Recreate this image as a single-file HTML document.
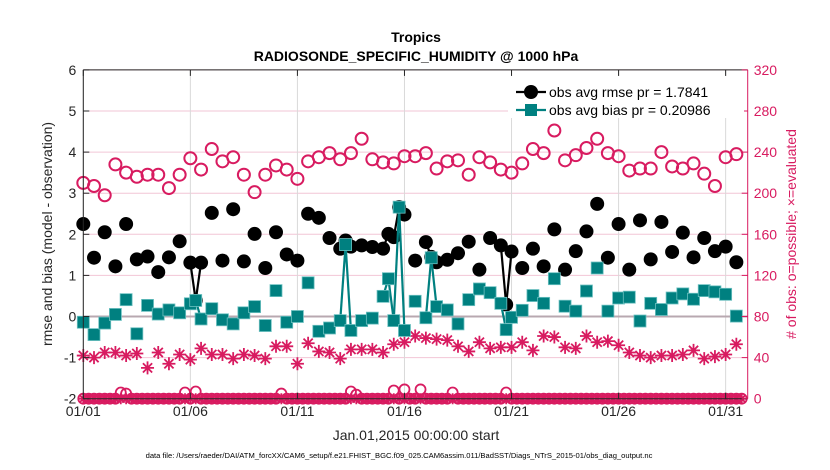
<!DOCTYPE html>
<html><head><meta charset="utf-8"><style>
html,body{margin:0;padding:0;background:#fff;}
svg{display:block;font-family:"Liberation Sans",Arial,sans-serif;}
</style></head><body>
<svg id="chart" width="830" height="470" viewBox="0 0 830 470" xmlns="http://www.w3.org/2000/svg">
<text x="416" y="42" text-anchor="middle" font-size="14" font-weight="bold" fill="#000">Tropics</text>
<text x="416" y="61" text-anchor="middle" font-size="14" font-weight="bold" fill="#000">RADIOSONDE_SPECIFIC_HUMIDITY @ 1000 hPa</text>
<g id="grid"></g>
<g id="series"></g>
<g id="axes"></g>
<text transform="translate(52,234) rotate(-90)" text-anchor="middle" font-size="14" fill="#262626">rmse and bias (model - observation)</text>
<text transform="translate(796,234) rotate(-90)" text-anchor="middle" font-size="14" fill="#d81b60"># of obs: o=possible; ×=evaluated</text>
<text x="416" y="440" text-anchor="middle" font-size="14" fill="#262626">Jan.01,2015 00:00:00 start</text>
<text x="399" y="458" text-anchor="middle" font-size="7.6" fill="#000">data file: /Users/raeder/DAI/ATM_forcXX/CAM6_setup/f.e21.FHIST_BGC.f09_025.CAM6assim.011/BadSST/Diags_NTrS_2015-01/obs_diag_output.nc</text>
<g id="legend"></g>
</svg>
<script>
// half-day samples (t = i*0.5 days)
const rmse = [2.25,1.43,2.05,1.22,2.25,1.39,1.46,1.08,1.44,1.83,1.31,1.31,2.52,1.36,2.61,1.34,2.01,1.18,2.05,1.51,1.36,2.50,2.40,1.91,1.65,1.70,1.73,1.69,1.65,1.93,2.48,1.36,1.81,1.32,1.38,1.54,1.82,1.14,1.91,1.73,1.58,1.18,1.65,1.22,2.12,1.14,1.59,2.07,2.74,1.43,2.25,1.14,2.34,1.39,2.30,1.57,2.04,1.44,1.91,1.59,1.70,1.32];
const bias = [-0.14,-0.44,-0.16,0.05,0.41,-0.42,0.27,0.06,0.16,0.09,0.31,-0.06,0.19,-0.08,-0.18,0.09,0.24,-0.22,0.63,-0.14,0.00,0.82,-0.36,-0.28,-0.10,-0.34,-0.10,-0.04,0.49,-0.10,-0.34,0.37,-0.03,0.24,0.16,-0.18,0.41,0.67,0.58,0.32,-0.02,0.15,0.51,0.32,0.92,0.25,0.13,0.62,1.18,0.13,0.45,0.47,-0.11,0.32,0.17,0.45,0.55,0.42,0.63,0.60,0.54,0.01];
const possible = [210,207,198,228,220,216,218,218,205,218,234,223,243,231,235,218,201,218,227,223,214,231,235,239,233,239,253,233,230,229,236,236,239,224,231,232,218,235,230,223,220,229,243,239,261,232,237,244,253,239,236,222,224,224,240,226,224,229,219,207,235,238];
const evaluated = [42,40,45,45,42,44,30,45,34,43,38,49,43,43,39,43,42,39,51,51,34,54,46,45,39,48,48,48,45,53,55,61,59,58,57,51,46,55,49,50,50,55,47,61,60,50,49,61,55,56,52,45,42,40,42,42,43,47,39,41,43,53];
// extra quarter-day samples: times, rmse, bias
const extraT = [5.25,12.25,14.25,14.75,16.25,19.75];
const extraRmse = [0.39,1.85,2.01,2.66,1.45,0.29];
const extraBias = [0.39,1.75,0.92,2.66,1.43,-0.32];
// 6-hourly level with no data (t = k*0.25)
const bottomPossible = [0,0,0,0,0,0,0,6,5,0,0,0,0,0,0,0,0,0,0,6,0,7,0,0,0,0,0,0,0,0,0,0,0,0,0,0,0,5,0,0,0,0,0,0,0,0,0,0,0,0,7,4,0,0,0,0,0,0,8,0,9,0,0,9,0,0,0,0,0,6,0,0,0,0,0,0,0,0,0,6,0,0,0,0,0,0,0,0,0,0,0,0,0,0,0,0,0,0,0,0,0,0,0,0,0,0,0,0,0,0,0,0,0,0,0,0,0,0,0,0,0,0,0,0];
const leftTicks = [-2,-1,0,1,2,3,4,5,6];
const rightTicks = [0,40,80,120,160,200,240,280,320];
const dayTicks = [0,5,10,15,20,25,30];
const dayLabels = ["01/01","01/06","01/11","01/16","01/21","01/26","01/31"];
const legendLabels = ["obs avg rmse pr = 1.7841","obs avg bias pr = 0.20986"];

const X0=83.3, X1=747.7, Y0=398.7, Y1=69.9, TMAX=31.03;
const xs = t => X0 + (X1-X0)*t/TMAX;
const yl = v => Y0 + (Y1-Y0)*(v+2)/8;
const yr = c => Y0 + (Y1-Y0)*c/320;
const NS="http://www.w3.org/2000/svg";
const PINK="#d81b60", TEAL="#008080";
function mk(tag, attrs, parent){const e=document.createElementNS(NS,tag);for(const k in attrs)e.setAttribute(k,attrs[k]);parent.appendChild(e);return e;}
const grid=document.getElementById('grid'), ser=document.getElementById('series'), axes=document.getElementById('axes'), leg=document.getElementById('legend');

mk('rect',{x:X0,y:Y1,width:X1-X0,height:Y0-Y1,fill:'#fff'},grid);
rightTicks.forEach(c=>{const l=mk('line',{x1:X0,x2:X1,y1:yr(c),y2:yr(c),stroke:'#f2c6d6','stroke-width':1},grid);

});
dayTicks.forEach(d=>{const l=mk('line',{x1:xs(d),x2:xs(d),y1:Y1,y2:Y0,stroke:'#d9d9d9','stroke-width':1},grid);

});
const z=mk('line',{x1:X0,x2:X1,y1:yl(0),y2:yl(0),stroke:'#b8a8b0','stroke-width':2},grid);



function star(g,x,y,r){
  let d='';
  for(let a=0;a<4;a++){const an=a*Math.PI/4;const dx=r*Math.cos(an),dy=r*Math.sin(an);d+=`M${x-dx},${y-dy}L${x+dx},${y+dy}`;}
  mk('path',{d:d,stroke:PINK,'stroke-width':1.8,fill:'none'},g);
}
const gb=mk('g',{},ser);


bottomPossible.forEach((c,k)=>{const x=xs(k*0.25);
  mk('circle',{cx:x,cy:yr(c),r:5,fill:'none',stroke:PINK,'stroke-width':1.8},gb);
  star(gb,x,yr(0),5.5);});
const gp=mk('g',{},ser);


possible.forEach((c,i)=>{mk('circle',{cx:xs(i*0.5),cy:yr(c),r:6,fill:'none',stroke:PINK,'stroke-width':2},gp);});
const ge=mk('g',{},ser);


evaluated.forEach((c,i)=>{star(ge,xs(i*0.5),yr(c),6.5);});

function merged(main, extra){
  const pts=main.map((v,i)=>({t:i*0.5,v:v}));
  extraT.forEach((t,j)=>pts.push({t:t,v:extra[j]}));
  pts.sort((a,b)=>a.t-b.t);return pts;
}
function drawSeries(pts,color,name,marker){
  const g=mk('g',{},ser);
  
  
  for(let i=1;i<pts.length;i++){if(pts[i].t-pts[i-1].t<=0.26){
    mk('line',{x1:xs(pts[i-1].t),y1:yl(pts[i-1].v),x2:xs(pts[i].t),y2:yl(pts[i].v),stroke:color,'stroke-width':2.2},g);}}
  pts.forEach(p=>marker(g,xs(p.t),yl(p.v)));
}
drawSeries(merged(rmse,extraRmse),'#000','rmse-series',(g,x,y)=>mk('circle',{cx:x,cy:y,r:7,fill:'#000'},g));
drawSeries(merged(bias,extraBias),TEAL,'bias-series',(g,x,y)=>mk('rect',{x:x-6,y:y-6,width:12,height:12,fill:TEAL,stroke:'#6cc0c0','stroke-width':0.8},g));

mk('line',{x1:X0,x2:X1,y1:Y1,y2:Y1,stroke:'#262626','stroke-width':1},axes);
mk('line',{x1:X0,x2:X1,y1:Y0,y2:Y0,stroke:'#262626','stroke-width':1},axes);
mk('line',{x1:X0,x2:X0,y1:Y1,y2:Y0,stroke:'#262626','stroke-width':1},axes);
mk('line',{x1:X1,x2:X1,y1:Y1,y2:Y0,stroke:PINK,'stroke-width':1},axes);
leftTicks.forEach(v=>{mk('line',{x1:X0,x2:X0+6,y1:yl(v),y2:yl(v),stroke:'#262626'},axes);
  const t=mk('text',{x:X0-7,y:yl(v)+5,'text-anchor':'end','font-size':14,fill:'#262626'},axes);t.textContent=v;
  
  });
rightTicks.forEach(c=>{mk('line',{x1:X1-6,x2:X1,y1:yr(c),y2:yr(c),stroke:PINK},axes);
  const t=mk('text',{x:X1+6,y:yr(c)+5,'font-size':14,fill:PINK},axes);t.textContent=c;
  
  });
dayTicks.forEach((d,i)=>{mk('line',{x1:xs(d),x2:xs(d),y1:Y0,y2:Y0-6,stroke:'#262626'},axes);
  mk('line',{x1:xs(d),x2:xs(d),y1:Y1,y2:Y1+6,stroke:'#262626'},axes);
  const t=mk('text',{x:xs(d),y:416,'text-anchor':'middle','font-size':14,fill:'#262626'},axes);t.textContent=dayLabels[i];
  
  });

mk('rect',{x:508,y:76,width:236,height:42,fill:'#fff'},leg);
[[92,'#000'],[110,TEAL]].forEach((r,i)=>{
  mk('line',{x1:516,x2:546,y1:r[0],y2:r[0],stroke:r[1],'stroke-width':2.2},leg);
  if(i===0)mk('circle',{cx:531,cy:r[0],r:7,fill:'#000'},leg);else mk('rect',{x:525,y:r[0]-6,width:12,height:12,fill:TEAL},leg);
  const t=mk('text',{x:549,y:r[0]+5,'font-size':14,fill:'#000'},leg);t.textContent=legendLabels[i];
  
  
});
</script>
</body></html>
